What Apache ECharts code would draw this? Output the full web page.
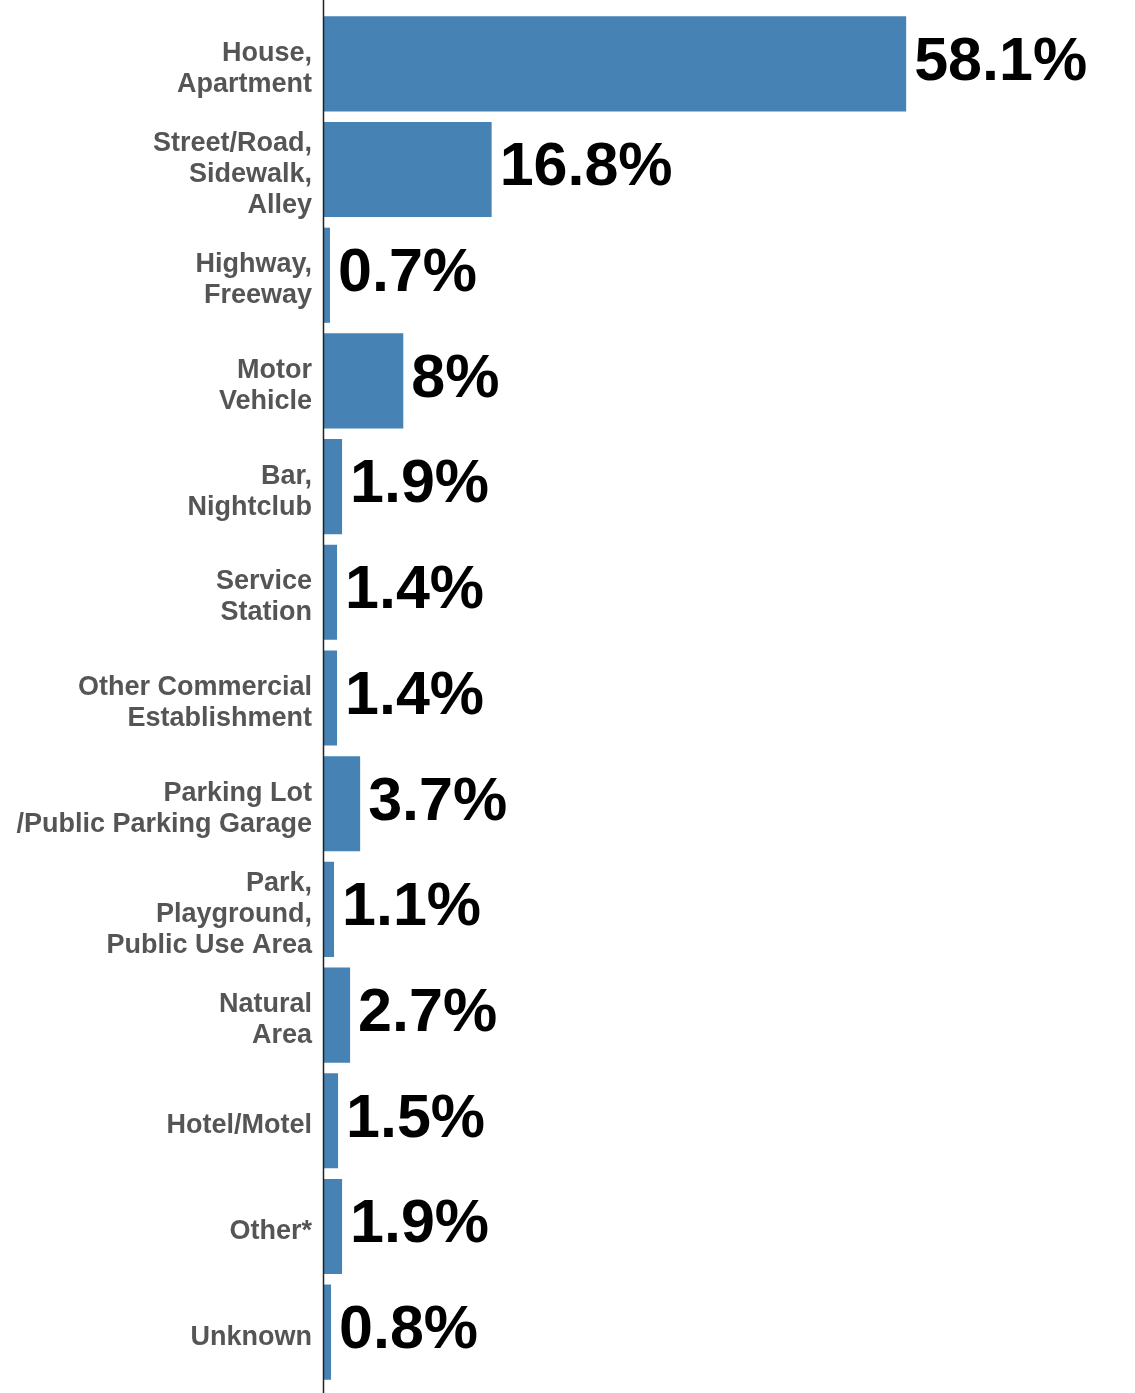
<!DOCTYPE html>
<html>
<head>
<meta charset="utf-8">
<script src="https://cdn.jsdelivr.net/npm/echarts@6/dist/echarts.min.js"></script>
<style>
  html, body { margin: 0; padding: 0; background: #ffffff; }
  #chart { width: 1135px; height: 1393px; }
</style>
</head>
<body>
<div id="chart"></div>
<script>
const categories = [
  "House,\nApartment",
  "Street/Road,\nSidewalk,\nAlley",
  "Highway,\nFreeway",
  "Motor\nVehicle",
  "Bar,\nNightclub",
  "Service\nStation",
  "Other Commercial\nEstablishment",
  "Parking Lot\n/Public Parking Garage",
  "Park,\nPlayground,\nPublic Use Area",
  "Natural\nArea",
  "Hotel/Motel",
  "Other*",
  "Unknown"
];
const values = [58.1, 16.8, 0.7, 8, 1.9, 1.4, 1.4, 3.7, 1.1, 2.7, 1.5, 1.9, 0.8];

const chart = echarts.init(document.getElementById('chart'));
chart.setOption({
  animation: false,
  backgroundColor: '#ffffff',
  grid: { left: 323, top: 11, width: 803, height: 1374, containLabel: false },
  xAxis: {
    type: 'value', min: 0, max: 80,
    show: false
  },
  yAxis: {
    type: 'category',
    data: categories,
    inverse: true,
    axisLine: { show: false },
    axisTick: { show: false },
    axisLabel: {
      margin: 11,
      color: '#555555',
      fontFamily: 'Liberation Sans, Arial, sans-serif',
      fontWeight: 'bold',
      fontSize: 27,
      lineHeight: 31,
      align: 'right',
      formatter: v => '{s| }\n' + v,
      rich: {
        s: { fontSize: 1, lineHeight: 10, height: 10 }
      }
    }
  },
  graphic: [{
    type: 'line',
    shape: { x1: 323.5, y1: 0, x2: 323.5, y2: 1393 },
    style: { stroke: '#222222', lineWidth: 1.5 },
    z: 100
  }],
  series: [{
    type: 'bar',
    data: values,
    barCategoryGap: '10%',
    itemStyle: { color: '#4682B4' },
    label: {
      show: true,
      position: 'right',
      distance: 8,
      offset: [0, -1],
      formatter: p => p.value + '%',
      color: '#000000',
      fontFamily: 'Liberation Sans, Arial, sans-serif',
      fontWeight: 'bold',
      fontSize: 61
    }
  }]
});
</script>
</body>
</html>
